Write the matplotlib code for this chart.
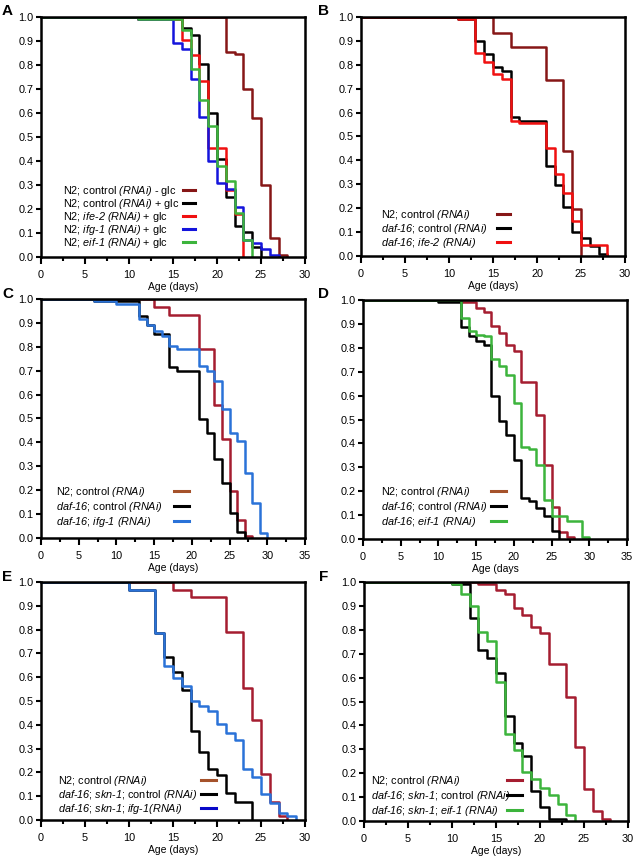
import matplotlib
matplotlib.use('Agg')
import matplotlib.pyplot as plt
from matplotlib.lines import Line2D
from matplotlib.ticker import MultipleLocator, FormatStrFormatter

plt.rcParams['font.family'] = ['Liberation Sans', 'DejaVu Sans']
plt.rcParams['mathtext.fontset'] = 'custom'
plt.rcParams['mathtext.rm'] = 'Liberation Sans'
plt.rcParams['mathtext.it'] = 'Liberation Sans:italic'
# sf slot used for fully italic runs (digits and brackets included)
plt.rcParams['mathtext.sf'] = 'Liberation Sans:italic'

W, H = 635, 860

# colours
DARK_RED = '#861616'
CRIMSON = '#a51d30'
BROWN = '#a5522b'
RED = '#f01010'
BLUE = '#1414dc'
SKY = '#2a72d8'
NAVY = '#0808c8'
GREEN = '#3cb43c'
BLACK = '#000000'

# ---- panel A: glucose
a_ctrl_noglc_days = [0, 21, 22, 23, 24, 25, 26, 27, 28]
a_ctrl_noglc_surv = [1.0, 0.855, 0.845, 0.70, 0.58, 0.30, 0.08, 0.01, 0.0]
a_ctrl_glc_days = [0, 11, 16, 17, 18, 19, 20, 21, 22, 23, 24, 25]
a_ctrl_glc_surv = [1.0, 0.99, 0.955, 0.925, 0.805, 0.60, 0.41, 0.25, 0.13, 0.105, 0.04, 0.0]
a_ife2_days = [0, 11, 16, 17, 18, 19, 21, 22, 23]
a_ife2_surv = [1.0, 0.99, 0.905, 0.84, 0.735, 0.455, 0.28, 0.18, 0.0]
a_ifg1_days = [0, 11, 15, 16, 17, 18, 19, 20, 21, 22, 23, 24, 25, 26, 27]
a_ifg1_surv = [1.0, 0.99, 0.89, 0.865, 0.74, 0.585, 0.40, 0.31, 0.285, 0.21, 0.07, 0.06, 0.035, 0.01, 0.0]
a_eif1_days = [0, 11, 16, 17, 18, 19, 20, 21, 22, 23, 24]
a_eif1_surv = [1.0, 0.99, 0.945, 0.785, 0.655, 0.545, 0.38, 0.315, 0.185, 0.07, 0.0]

# ---- panel B: daf-16; ife-2
b_n2_days = [0, 15, 17, 21, 23, 24, 25]
b_n2_surv = [1.0, 0.935, 0.875, 0.735, 0.44, 0.195, 0.0]
b_daf16_days = [0, 11, 13, 14, 15, 16, 17, 18, 21, 22, 23, 24, 25, 26, 27, 28]
b_daf16_surv = [1.0, 0.99, 0.90, 0.845, 0.79, 0.775, 0.58, 0.565, 0.375, 0.295, 0.205, 0.10, 0.075, 0.04, 0.01, 0.0]
b_ife2_days = [0, 11, 13, 14, 15, 16, 17, 18, 21, 22, 23, 24, 25, 28]
b_ife2_surv = [1.0, 0.99, 0.85, 0.81, 0.76, 0.74, 0.565, 0.555, 0.45, 0.345, 0.265, 0.145, 0.045, 0.0]

# ---- panel C: daf-16; ifg-1
c_n2_days = [0, 15, 17, 21, 23, 24, 25, 26, 27, 28]
c_n2_surv = [1.0, 0.965, 0.935, 0.79, 0.555, 0.415, 0.195, 0.075, 0.01, 0.0]
c_daf16_days = [0, 7, 13, 14, 15, 17, 18, 21, 22, 23, 24, 25, 26, 27]
c_daf16_surv = [1.0, 0.99, 0.93, 0.89, 0.855, 0.715, 0.70, 0.50, 0.44, 0.33, 0.23, 0.105, 0.025, 0.0]
c_ifg1_days = [0, 7, 10, 13, 14, 15, 16, 17, 18, 21, 22, 23, 24, 25, 26, 27, 28, 29, 30]
c_ifg1_surv = [1.0, 0.99, 0.98, 0.915, 0.89, 0.865, 0.845, 0.805, 0.79, 0.72, 0.70, 0.655, 0.54,
               0.44, 0.405, 0.27, 0.145, 0.02, 0.0]

# ---- panel D: daf-16; eif-1
d_n2_days = [0, 13, 15, 16, 17, 18, 19, 20, 21, 23, 24, 25, 26, 27, 28]
d_n2_surv = [1.0, 0.99, 0.965, 0.95, 0.89, 0.86, 0.81, 0.785, 0.655, 0.52, 0.31, 0.135, 0.03, 0.01, 0.0]
d_daf16_days = [0, 10, 13, 14, 15, 16, 17, 18, 19, 20, 21, 22, 23, 24, 25, 26]
d_daf16_surv = [1.0, 0.99, 0.885, 0.85, 0.83, 0.81, 0.60, 0.495, 0.435, 0.33, 0.17, 0.16, 0.13, 0.095, 0.035, 0.0]
d_eif1_days = [0, 13, 14, 15, 16, 17, 18, 19, 20, 21, 22, 23, 24, 25, 27, 29, 30]
d_eif1_surv = [1.0, 0.925, 0.87, 0.855, 0.85, 0.755, 0.725, 0.685, 0.57, 0.385, 0.375, 0.31, 0.165,
               0.095, 0.075, 0.01, 0.0]

# ---- panel E: daf-16; skn-1; ifg-1
e_n2_days = [0, 15, 17, 21, 23, 24, 25, 26, 27, 28]
e_n2_surv = [1.0, 0.965, 0.935, 0.79, 0.555, 0.42, 0.195, 0.075, 0.015, 0.0]
e_dsk_days = [0, 10, 13, 14, 15, 16, 17, 18, 19, 20, 21, 22, 24]
e_dsk_surv = [1.0, 0.965, 0.785, 0.685, 0.62, 0.545, 0.375, 0.285, 0.215, 0.19, 0.115, 0.075, 0.0]
e_ifg1_days = [0, 10, 13, 14, 15, 16, 17, 18, 19, 20, 21, 22, 23, 24, 25, 26, 27, 28, 29]
e_ifg1_surv = [1.0, 0.965, 0.785, 0.645, 0.595, 0.565, 0.50, 0.48, 0.46, 0.405, 0.365, 0.335, 0.215,
               0.18, 0.11, 0.07, 0.03, 0.015, 0.0]

# ---- panel F: daf-16; skn-1; eif-1
f_n2_days = [0, 13, 15, 16, 17, 18, 19, 20, 21, 23, 24, 25, 26, 27, 28]
f_n2_surv = [1.0, 0.99, 0.965, 0.95, 0.89, 0.86, 0.81, 0.785, 0.655, 0.52, 0.31, 0.135, 0.04, 0.01, 0.0]
f_dsk_days = [0, 10, 12, 13, 14, 15, 16, 17, 18, 19, 20, 21, 23]
f_dsk_surv = [1.0, 0.99, 0.85, 0.715, 0.68, 0.62, 0.44, 0.325, 0.27, 0.125, 0.06, 0.01, 0.0]
f_eif1_days = [0, 10, 11, 12, 13, 14, 15, 16, 17, 18, 19, 20, 21, 22, 23, 24]
f_eif1_surv = [1.0, 0.99, 0.95, 0.90, 0.79, 0.755, 0.58, 0.365, 0.295, 0.205, 0.175, 0.14, 0.11, 0.07, 0.025, 0.0]


def it(s):
    # italic segment, hyphens kept outside the math so they stay hyphens
    parts = s.split('-')
    return '-'.join(r'$\mathsf{%s}$' % p.replace(' ', r'\ ') for p in parts)


a_labels = ['N2; control ' + it('(RNAi)') + ' - glc',
            'N2; control ' + it('(RNAi)') + ' + glc',
            'N2; ' + it('ife-2 (RNAi)') + ' + glc',
            'N2; ' + it('ifg-1 (RNAi)') + ' + glc',
            'N2; ' + it('eif-1 (RNAi)') + ' + glc']
b_labels = ['N2; control ' + it('(RNAi)'),
            it('daf-16') + '; control ' + it('(RNAi)'),
            it('daf-16') + '; ' + it('ife-2 (RNAi)')]
c_labels = ['N2; control ' + it('(RNAi)'),
            it('daf-16') + '; control ' + it('(RNAi)'),
            it('daf-16') + '; ' + it('ifg-1 (RNAi)')]
d_labels = ['N2; control ' + it('(RNAi)'),
            it('daf-16') + '; control ' + it('(RNAi)'),
            it('daf-16') + '; ' + it('eif-1 (RNAi)')]
e_labels = ['N2; control ' + it('(RNAi)'),
            it('daf-16') + '; ' + it('skn-1') + '; control ' + it('(RNAi)'),
            it('daf-16') + '; ' + it('skn-1') + '; ' + it('ifg-1(RNAi)')]
f_labels = ['N2; control ' + it('(RNAi)'),
            it('daf-16') + '; ' + it('skn-1') + '; control ' + it('(RNAi)'),
            it('daf-16') + '; ' + it('skn-1') + '; ' + it('eif-1 (RNAi)')]


fig = plt.figure(figsize=(W / 100, H / 100), dpi=100)

TICK_FS = 7.8
LEG_FS = 7.8


def make_axes(left, top, right, bottom, xmax, xlabel):
    ax = fig.add_axes([left / W, 1 - bottom / H, (right - left) / W, (bottom - top) / H])
    ax.set_xlim(0, xmax)
    ax.set_ylim(0, 1)
    ax.xaxis.set_major_locator(MultipleLocator(5))
    ax.xaxis.set_minor_locator(MultipleLocator(2.5))
    ax.yaxis.set_major_locator(MultipleLocator(0.1))
    ax.yaxis.set_major_formatter(FormatStrFormatter('%.1f'))
    for s in ax.spines.values():
        s.set_linewidth(1.8)
    ax.tick_params(axis='x', which='major', direction='out', length=5, width=1.5,
                   labelsize=TICK_FS, pad=4.5)
    ax.tick_params(axis='x', which='minor', direction='out', length=3, width=1.5)
    ax.tick_params(axis='y', which='major', direction='out', length=3.5, width=1.5,
                   labelsize=TICK_FS, pad=2)
    ax.set_xlabel(xlabel, fontsize=7.5, labelpad=1.5)
    return ax


def curves(ax, series):
    for days, surv, col in series:
        ax.step(days, surv, where='post', color=col, lw=1.8)


def legend(labels, colors, tx, y0, dy, hx0, hx1):
    for i, (lab, col) in enumerate(zip(labels, colors)):
        y = y0 + i * dy
        fig.text(tx / W, 1 - y / H, lab, ha='left', va='center', fontsize=LEG_FS)
        fig.add_artist(Line2D([hx0 / W, hx1 / W], [1 - (y - 1) / H] * 2, color=col, lw=2.2))


def letter(s, x, y):
    fig.text(x / W, 1 - y / H, s, fontsize=11, fontweight='bold', va='center', ha='left')


# A
ax = make_axes(41, 17, 305, 257, 30, 'Age (days)')
curves(ax, [(a_ctrl_noglc_days, a_ctrl_noglc_surv, DARK_RED),
            (a_ctrl_glc_days, a_ctrl_glc_surv, BLACK),
            (a_ife2_days, a_ife2_surv, RED),
            (a_ifg1_days, a_ifg1_surv, BLUE),
            (a_eif1_days, a_eif1_surv, GREEN)])
legend(a_labels, [DARK_RED, BLACK, RED, BLUE, GREEN], 63, 191, 13.0, 183, 195)
letter('A', 2, 11)

# B
ax = make_axes(361, 17, 625, 256, 30, 'Age (days)')
curves(ax, [(b_n2_days, b_n2_surv, DARK_RED),
            (b_daf16_days, b_daf16_surv, BLACK),
            (b_ife2_days, b_ife2_surv, RED)])
legend(b_labels, [DARK_RED, BLACK, RED], 381, 215, 14, 497, 510)
letter('B', 318, 11)

# C
ax = make_axes(41, 299, 305, 538, 35, 'Age (days)')
curves(ax, [(c_n2_days, c_n2_surv, CRIMSON),
            (c_daf16_days, c_daf16_surv, BLACK),
            (c_ifg1_days, c_ifg1_surv, SKY)])
legend(c_labels, [BROWN, BLACK, SKY], 56, 492, 15, 174, 189)
letter('C', 2, 294)

# D
ax = make_axes(363, 300, 627, 539, 35, 'Age (days')
curves(ax, [(d_n2_days, d_n2_surv, CRIMSON),
            (d_daf16_days, d_daf16_surv, BLACK),
            (d_eif1_days, d_eif1_surv, GREEN)])
legend(d_labels, [BROWN, BLACK, GREEN], 381, 492, 15, 491, 506)
letter('D', 318, 294)

# E
ax = make_axes(41, 582, 305, 820, 30, 'Age (days)')
curves(ax, [(e_n2_days, e_n2_surv, CRIMSON),
            (e_dsk_days, e_dsk_surv, BLACK),
            (e_ifg1_days, e_ifg1_surv, SKY)])
legend(e_labels, [BROWN, BLACK, NAVY], 58, 781, 13.8, 201, 216)
letter('E', 2, 577)

# F
ax = make_axes(364, 582, 628, 821, 30, 'Age (days)')
curves(ax, [(f_n2_days, f_n2_surv, CRIMSON),
            (f_dsk_days, f_dsk_surv, BLACK),
            (f_eif1_days, f_eif1_surv, GREEN)])
legend(f_labels, [CRIMSON, BLACK, GREEN], 371, 781, 14.8, 507, 522)
letter('F', 319, 577)

fig.savefig('out.png', dpi=100)
